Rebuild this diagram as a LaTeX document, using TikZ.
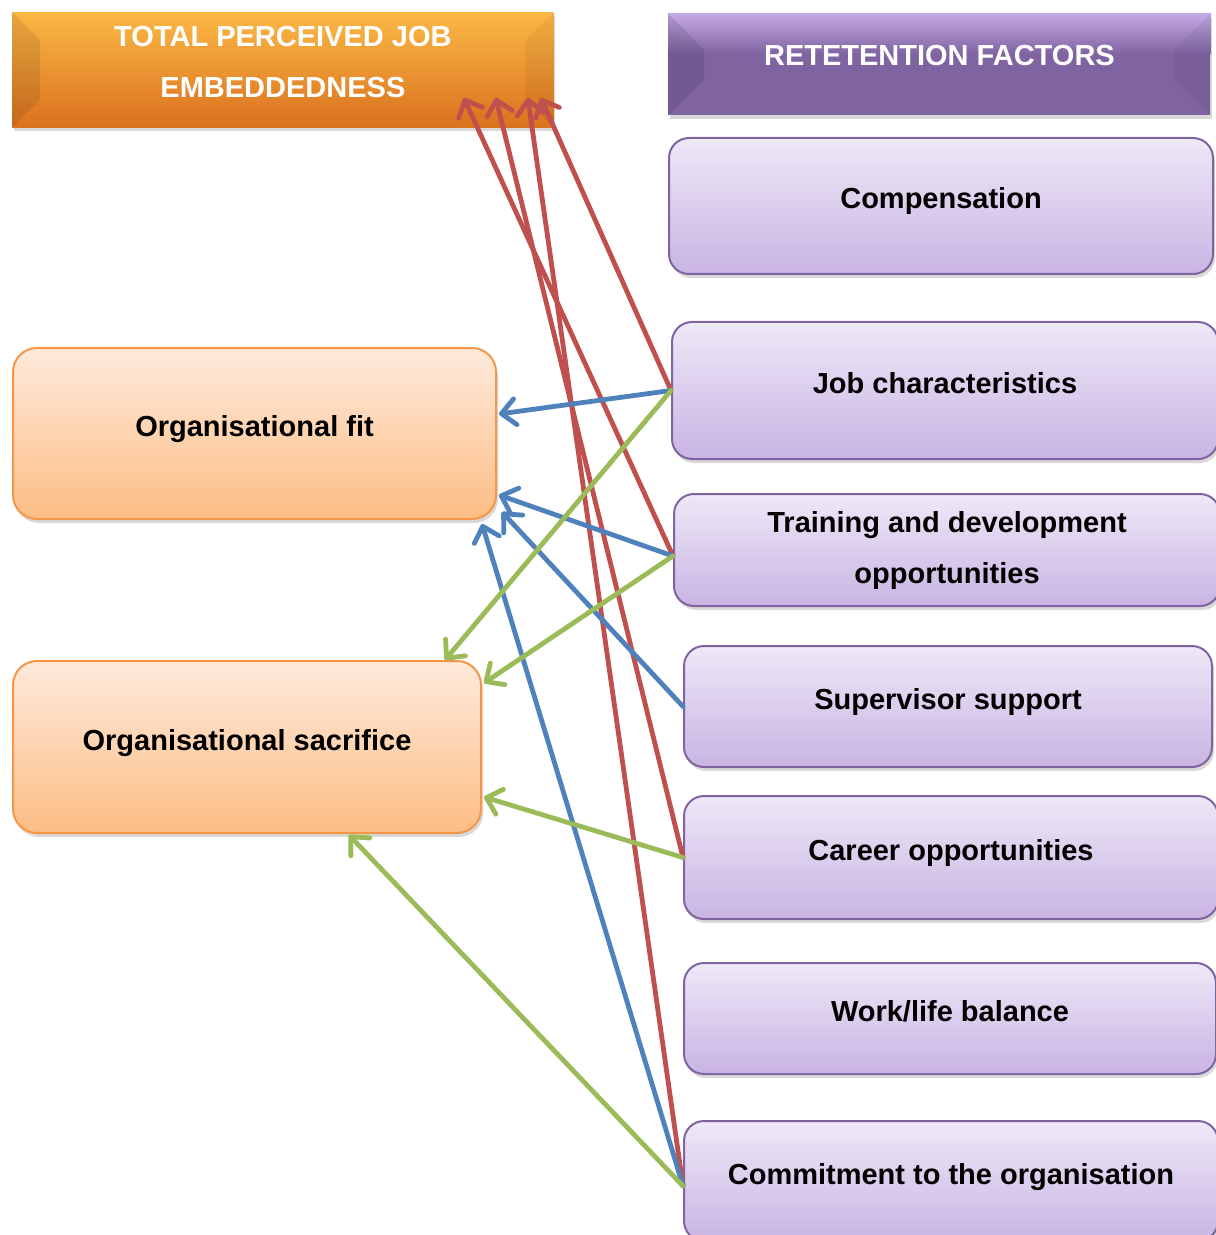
\documentclass[tikz,border=0pt]{standalone}
\usepackage{fontspec}
\setmainfont{Liberation Sans}
\usetikzlibrary{arrows.meta, positioning, calc, shadows}

\definecolor{lavtop}{HTML}{EEE8F7}
\definecolor{lavbot}{HTML}{C9B4E3}
\definecolor{lavline}{HTML}{8064A2}
\definecolor{peachtop}{HTML}{FEEADC}
\definecolor{peachbot}{HTML}{FDBD84}
\definecolor{peachline}{HTML}{F79646}
\definecolor{orgtop}{HTML}{FBB845}
\definecolor{orgmid}{HTML}{F2902F}
\definecolor{orgbot}{HTML}{DA711E}
\definecolor{purtop}{HTML}{C3A8E4}
\definecolor{purmid}{HTML}{8064A2}
\definecolor{arrred}{HTML}{C0504D}
\definecolor{arrblue}{HTML}{4F81BD}
\definecolor{arrgreen}{HTML}{9BBB59}

\newcommand{\boxfont}{\fontsize{14.5}{25.5}\selectfont\bfseries}

\tikzset{
    >={Straight Barb[length=7pt, width=13pt, round]},
    factor/.style={draw=lavline, line width=1pt, rounded corners=10pt,
        top color=lavtop, bottom color=lavbot, anchor=north west,
        inner sep=0pt, font=\boxfont,
        drop shadow={opacity=.3, shadow xshift=1pt, shadow yshift=-2pt}},
    oneline/.style={text height=11pt, text depth=8pt},
    dimension/.style={draw=peachline, line width=1pt, rounded corners=12pt,
        top color=peachtop, bottom color=peachbot, anchor=north west,
        inner sep=0pt, font=\boxfont, text height=11pt, text depth=8pt,
        drop shadow={opacity=.3, shadow xshift=1pt, shadow yshift=-2pt}},
    banner/.style={anchor=north west, inner sep=0pt,
        drop shadow={opacity=.3, shadow xshift=1pt, shadow yshift=-2pt}},
    bannertext/.style={text=white, font=\boxfont, align=center, inner sep=0pt},
    link/.style={->, line width=2.4pt, line cap=round}
}

\begin{document}
\begin{tikzpicture}[x=0.5pt, y=-0.5pt]
    \useasboundingbox (0,0) rectangle (1215,1235);

    % headings
    \node[banner, top color=orgtop, middle color=orgmid, bottom color=orgbot,
        minimum width=270.5pt, minimum height=57.5pt] (title) at (12,12) {};
    \fill[black, opacity=.09] (title.north west) -- ++(28,28)
        -- ($(title.south west)+(28,-28)$) -- (title.south west) -- cycle;
    \fill[black, opacity=.05] (title.north east) -- ++(-28,28)
        -- ($(title.south east)+(-28,-28)$) -- (title.south east) -- cycle;
    \node[bannertext] (titletext) at ([yshift=4pt]title.center)
        {TOTAL PERCEIVED JOB\\EMBEDDEDNESS};

    \node[banner, fill=purmid,
        minimum width=271pt, minimum height=50.5pt] (retention) at (668,14) {};
    \shade[top color=purtop, bottom color=purmid] (retention.north west)
        rectangle ($(retention.north east)+(0,40)$);
    \fill[black, opacity=.1] (retention.north west) -- ++(36,36)
        -- ($(retention.south west)+(36,-36)$) -- (retention.south west) -- cycle;
    \fill[black, opacity=.05] (retention.north east) -- ++(-36,36)
        -- ($(retention.south east)+(-36,-36)$) -- (retention.south east) -- cycle;
    \node[bannertext] (retentiontext) at ([yshift=4.75pt]retention.center)
        {RETETENTION FACTORS};

    % retention factors
    \node[factor, oneline, minimum width=272pt, minimum height=68pt] (comp) at (668,137) {Compensation};
    \node[factor, oneline, minimum width=273pt, minimum height=68.5pt] (jobch) at (671,321) {Job characteristics};
    \node[factor, align=center, minimum width=273pt, minimum height=56pt] (train) at (673,493)
        {Training and development\\opportunities};
    \node[factor, oneline, minimum width=264pt, minimum height=60.5pt] (superv) at (683,645) {Supervisor support};
    \node[factor, oneline, minimum width=267pt, minimum height=61.5pt] (career) at (683,795) {Career opportunities};
    \node[factor, oneline, minimum width=266pt, minimum height=55.5pt] (worklife) at (683,962) {Work/life balance};
    \node[factor, oneline, minimum width=267pt, minimum height=60pt] (commit) at (683,1120) {Commitment to the organisation};

    % embeddedness dimensions
    \node[dimension, minimum width=241.5pt, minimum height=85.5pt] (fit) at (12,347) {Organisational fit};
    \node[dimension, minimum width=234pt, minimum height=86pt] (sacr) at (12,660) {Organisational sacrifice};

    % arrow ends
    \coordinate (trainout) at ($(train.west)+(0,6)$);
    \coordinate (commitout) at ($(commit.west)+(0,5)$);
    \coordinate (t1) at ($(title.south east)+(-90,-30)$);
    \coordinate (t2) at ($(title.south east)+(-58,-30)$);
    \coordinate (t3) at ($(title.south east)+(-26,-30)$);
    \coordinate (t4) at ($(title.south east)+(-13,-30)$);
    \coordinate (f1) at ($(fit.east)+(2,-19.5)$);
    \coordinate (f2) at ($(fit.south east)+(2,-25)$);
    \coordinate (f3) at ($(fit.south east)+(5,-8)$);
    \coordinate (f4) at ($(fit.south east)+(-15,4)$);
    \coordinate (s1) at ($(sacr.north east)+(-37,0)$);
    \coordinate (s2) at ($(sacr.north east)+(2,23)$);
    \coordinate (s3) at ($(sacr.south east)+(2,-37)$);
    \coordinate (s4) at ($(sacr.south east)+(-133,1)$);

    \foreach \a/\b in {jobch.west/t4, trainout/t1, career.west/t2, commitout/t3}{
        \draw[link, arrred] (\a) -- (\b);
    }
    \foreach \a/\b in {jobch.west/f1, trainout/f2, superv.west/f3, commitout/f4}{
        \draw[link, arrblue] (\a) -- (\b);
    }
    \foreach \a/\b in {jobch.west/s1, trainout/s2, career.west/s3, commitout/s4}{
        \draw[link, arrgreen] (\a) -- (\b);
    }
\end{tikzpicture}
\end{document}
